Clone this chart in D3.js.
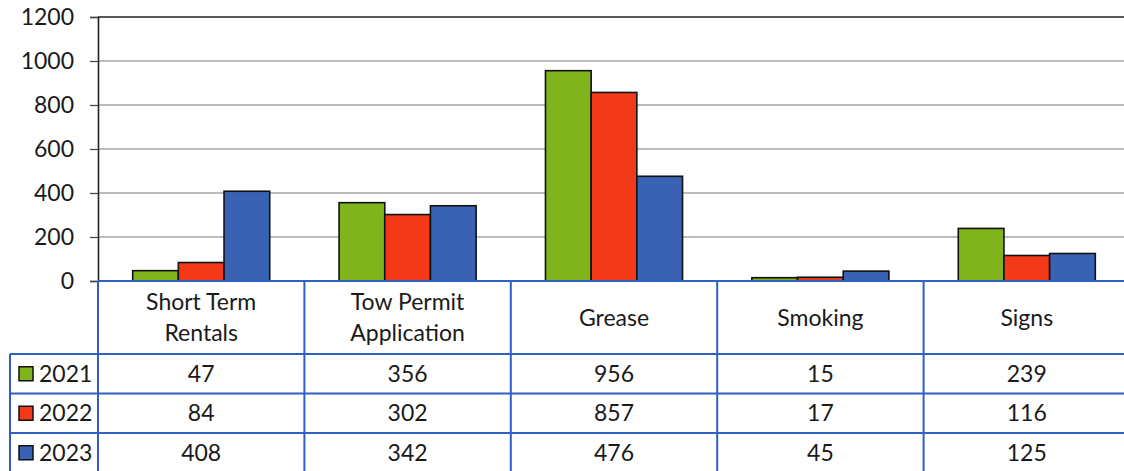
<!DOCTYPE html>
<html><head><meta charset="utf-8">
<script src="https://cdn.jsdelivr.net/npm/d3@7"></script>
<style>html,body{margin:0;padding:0;background:#fff;overflow:hidden}svg{display:block}</style>
</head><body>
<svg id="c" width="1124" height="471"></svg>
<script>
const categories = [["Short Term","Rentals"],["Tow Permit","Application"],["Grease"],["Smoking"],["Signs"]];
const seriesNames = ["2021","2022","2023"];
const values2021 = [47,356,956,15,239];
const values2022 = [84,302,857,17,116];
const values2023 = [408,342,476,45,125];
const yTicks = [0,200,400,600,800,1000,1200];
const colors = ["#80b41c","#f23a18","#3a62b4"];
const seriesVals = [values2021, values2022, values2023];

(function(){
const svg = d3.select("#c");
const font = "Lato, 'Open Sans', sans-serif";
const fs = 23;
const pLeft = 98, pRight = 1130, pTop = 17, pBottom = 281;
const tableLeft = 10, headerBottom = 354, rowH = 39.5;
const blue = "#2f5fc4";
const txt = "#1a1a1a";

const x0 = d3.scaleBand().domain(d3.range(categories.length)).range([pLeft, pRight]).padding(0);
const x1 = d3.scaleBand().domain(d3.range(3)).range([x0.bandwidth()*0.168, x0.bandwidth()*0.832]).padding(0);
const y = d3.scaleLinear().domain([0,1200]).range([pBottom, pTop]);

svg.append("g").selectAll("line").data(yTicks.filter(d=>d>0)).join("line")
  .attr("x1", pLeft).attr("x2", pRight).attr("y1", d=>y(d)).attr("y2", d=>y(d))
  .attr("stroke", d=> d===1200 ? "#222" : "#7a7a7a").attr("stroke-width", d=> d===1200?1.6:1.2);

const yAxis = d3.axisLeft(y).tickValues(yTicks).tickFormat(d3.format("d")).tickSize(8).tickPadding(16);
const ga = svg.append("g").attr("transform", `translate(${pLeft},0)`).call(yAxis);
ga.select(".domain").attr("stroke","#222").attr("stroke-width",1.6);
ga.selectAll(".tick line").attr("stroke","#444").attr("stroke-width",1.2);
ga.selectAll(".tick text").attr("font-family", font).attr("font-size", fs).attr("fill",txt);

const g = svg.append("g");
categories.forEach((c,i)=>{
  seriesVals.forEach((vals,s)=>{
    g.append("rect")
      .attr("x", x0(i)+x1(s)).attr("width", x1.bandwidth())
      .attr("y", y(vals[i])).attr("height", y(0)-y(vals[i]))
      .attr("fill", colors[s]).attr("stroke","#111").attr("stroke-width",1.6);
  });
});

const tg = svg.append("g");
tg.append("line").attr("x1",pLeft).attr("x2",pRight).attr("y1",pBottom).attr("y2",pBottom).attr("stroke",blue).attr("stroke-width",2);
d3.range(categories.length+1).forEach(i=>{
  const xx = i<categories.length ? x0(i) : pRight;
  tg.append("line").attr("x1",xx).attr("x2",xx).attr("y1",pBottom).attr("y2",471).attr("stroke",blue).attr("stroke-width",2);
});
tg.append("line").attr("x1",tableLeft).attr("x2",tableLeft).attr("y1",headerBottom).attr("y2",471).attr("stroke",blue).attr("stroke-width",2);
d3.range(3).forEach(r=>{
  const yy = headerBottom + r*rowH;
  tg.append("line").attr("x1",tableLeft).attr("x2",pRight).attr("y1",yy).attr("y2",yy).attr("stroke",blue).attr("stroke-width",2);
});
categories.forEach((c,i)=>{
  const cx = x0(i)+x0.bandwidth()/2;
  const cy = (pBottom+headerBottom)/2;
  const t = tg.append("text").attr("text-anchor","middle").attr("font-family",font).attr("font-size",fs).attr("fill",txt);
  c.forEach((line,k)=>{
    t.append("tspan").attr("x",cx).attr("y", cy + (k-(c.length-1)/2)*31 + 8).text(line);
  });
});
seriesNames.forEach((name,s)=>{
  const cy = headerBottom + s*rowH + rowH/2;
  tg.append("rect").attr("x",19).attr("y",cy-7).attr("width",14).attr("height",14)
    .attr("fill",colors[s]).attr("stroke","#111").attr("stroke-width",1.5);
  tg.append("text").attr("x",39).attr("y",cy+8).attr("font-family",font).attr("font-size",fs).attr("fill",txt).text(name);
  seriesVals[s].forEach((v,i)=>{
    tg.append("text").attr("x",x0(i)+x0.bandwidth()/2).attr("y",cy+8).attr("text-anchor","middle")
      .attr("font-family",font).attr("font-size",fs).attr("fill",txt).text(v);
  });
});
})();
</script>
</body></html>
